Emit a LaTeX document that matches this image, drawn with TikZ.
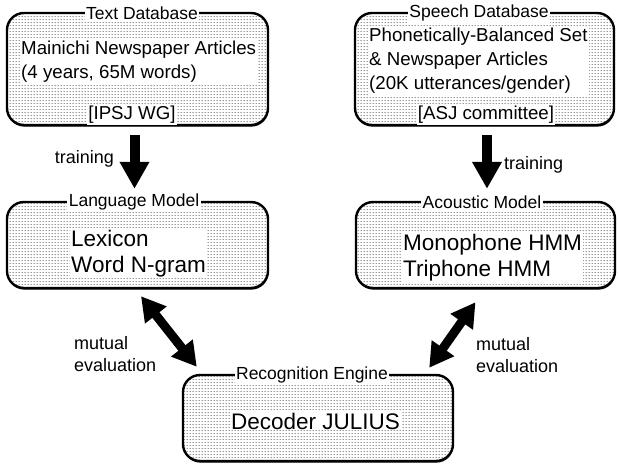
\documentclass[tikz,border=0pt]{standalone}
\usepackage{fontspec}
\setmainfont{Liberation Sans}
\usetikzlibrary{patterns,shadows,arrows.meta}
\pgfdeclarepatternformonly{finedots}{\pgfpointorigin}{\pgfpoint{3pt}{3.4pt}}{\pgfpoint{3pt}{3.4pt}}{%
  \pgfpathcircle{\pgfpoint{1.5pt}{1.7pt}}{0.62pt}\pgfusepath{fill}}
\begin{document}
\begin{tikzpicture}[x=1pt,y=-1pt,
 box/.style={draw, line width=2.4pt, rounded corners=17pt,
   drop shadow={shadow xshift=0.4pt, shadow yshift=-1.6pt, fill=black, opacity=1},
   preaction={fill=white}, pattern=finedots, pattern color=black!80, inner sep=0pt},
 ttl/.style={fill=white, inner sep=1.5pt, font=\fontsize{17.5}{20}\selectfont},
 dbtext/.style={anchor=base west, fill=white, inner sep=1pt, align=left, font=\fontsize{18.7}{24}\selectfont},
 mtext/.style={anchor=base west, fill=white, inner sep=1pt, align=left, font=\fontsize{22.5}{26.5}\selectfont},
 lbl/.style={inner sep=0pt, align=left, font=\fontsize{18}{22.5}\selectfont},
 train/.style={line width=10pt, -{Triangle[width=28pt,length=27pt]}},
 mutual/.style={line width=9pt, {Triangle[width=26pt,length=24pt]}-{Triangle[width=26pt,length=24pt]}}
]
\useasboundingbox (0,0) rectangle (618,465);
% boxes
\node[box, minimum width=261pt, minimum height=112pt] (tdb) at (137.5,69) {};
\node[box, minimum width=259pt, minimum height=112pt] (sdb) at (484.5,69) {};
\node[box, minimum width=261pt, minimum height=86pt] (lm) at (137.5,245) {};
\node[box, minimum width=259pt, minimum height=86pt] (am) at (485.5,245) {};
\node[box, minimum width=270pt, minimum height=86pt] (re) at (318,418) {};
% titles
\node[ttl] (tdbt) at (142,13) {Text Database};
\node[ttl] (sdbt) at (479,13) {Speech Database};
\node[ttl] (lmt) at (134,202) {Language Model};
\node[ttl] (amt) at (482,202) {Acoustic Model};
\node[ttl] (ret) at (312,375) {Recognition Engine};
% contents (base = baseline of last line)
\node[dbtext] (tdb1) at (20,79) {Mainichi Newspaper Articles\\(4 years, 65M words)};
\node[dbtext, anchor=base] (tdb2) at (132,120) {[IPSJ WG]};
\node[dbtext] (sdb1) at (368,90) {Phonetically-Balanced Set\\\& Newspaper Articles\\(20K utterances/gender)};
\node[dbtext, anchor=base] (sdb2) at (486,120) {[ASJ committee]};
\node[mtext] (lm1) at (70,272.5) {Lexicon\\Word N-gram};
\node[mtext] (am1) at (402,276.5) {Monophone HMM\\Triphone HMM};
\node[mtext] (re1) at (230,429) {Decoder JULIUS};
% arrows
\draw[train] ([xshift=-3pt,yshift=-9pt]tdb.south) -- ([xshift=-3pt,yshift=12pt]lm.north);
\draw[train] ([xshift=2.5pt,yshift=-9pt]sdb.south) -- ([xshift=1.5pt,yshift=12pt]am.north);
\draw[mutual] ([xshift=3.5pt,yshift=-7pt]lm.south) -- ([xshift=15pt,yshift=7pt]re.north west);
\draw[mutual] ([xshift=-10pt,yshift=-13pt]am.south) -- ([xshift=-25pt,yshift=6pt]re.north east);
% labels
\node[lbl, anchor=base east] (tr1) at (114,164) {training};
\node[lbl, anchor=base west] (tr2) at (504,170) {training};
\node[lbl, anchor=base west] (mu1) at (74,371.5) {mutual\\evaluation};
\node[lbl, anchor=base west] (mu2) at (476,372.5) {mutual\\evaluation};
\end{tikzpicture}
\end{document}
